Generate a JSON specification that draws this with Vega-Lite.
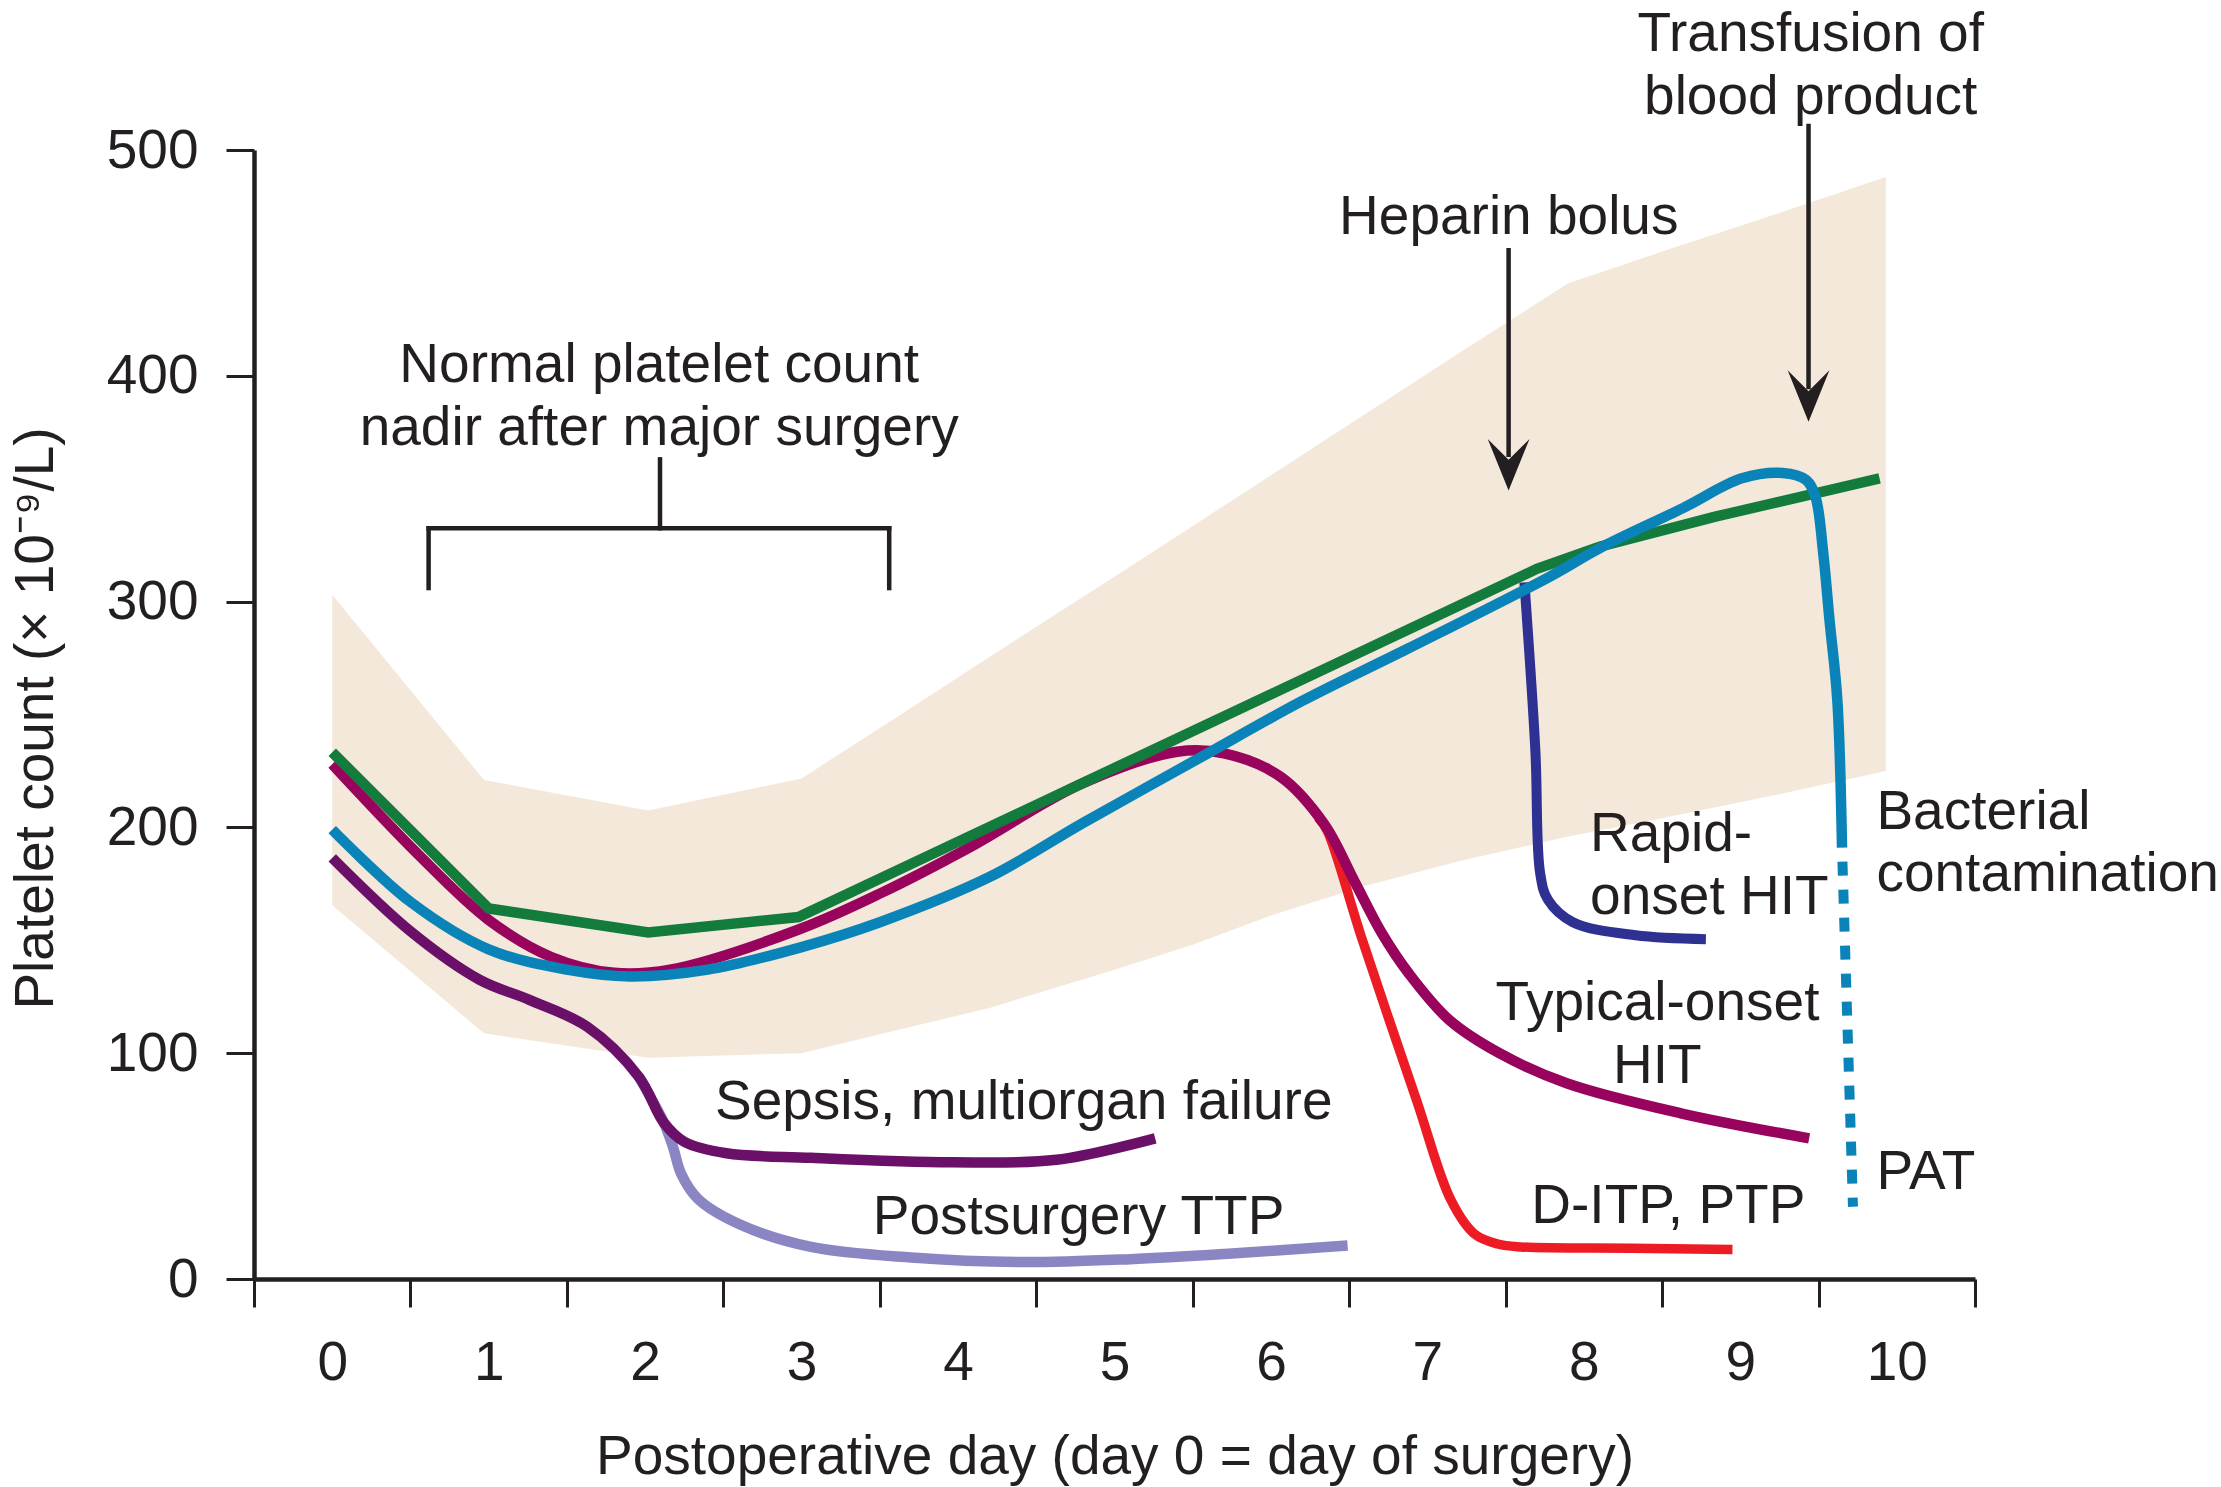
{
  "$schema": "https://vega.github.io/schema/vega-lite/v6.json",
  "width": 1721,
  "height": 1129,
  "autosize": "none",
  "padding": {"left": 254, "top": 150, "right": 246, "bottom": 208},
  "background": "white",
  "config": {"view": {"stroke": null}, "font": "Liberation Sans"},
  "datasets": {
    "band": [
      {"day": 0, "count": 165.5, "count2": 303},
      {"day": 0.97, "count": 108.8, "count2": 221},
      {"day": 2.02, "count": 98, "count2": 207.5},
      {"day": 3.0, "count": 100, "count2": 221.7},
      {"day": 3.6, "count": 110, "count2": 248.5},
      {"day": 4.2, "count": 120, "count2": 275.5},
      {"day": 5.0, "count": 137, "count2": 311},
      {"day": 5.5, "count": 148, "count2": 333.5},
      {"day": 6.0, "count": 161, "count2": 356},
      {"day": 6.6, "count": 174, "count2": 383},
      {"day": 7.2, "count": 185, "count2": 410},
      {"day": 7.9, "count": 196, "count2": 441},
      {"day": 8.5, "count": 204, "count2": 455},
      {"day": 9.2, "count": 214, "count2": 471},
      {"day": 9.93, "count": 225, "count2": 488}
    ],
    "curves": [
      {"series": "ttp", "day": 1.96, "count": 89.5},
      {"series": "ttp", "day": 2.12, "count": 69.2},
      {"series": "ttp", "day": 2.18, "count": 58},
      {"series": "ttp", "day": 2.23, "count": 46.6},
      {"series": "ttp", "day": 2.34, "count": 35.3},
      {"series": "ttp", "day": 2.61, "count": 24},
      {"series": "ttp", "day": 3.06, "count": 14.2},
      {"series": "ttp", "day": 3.7, "count": 9.5},
      {"series": "ttp", "day": 4.4, "count": 7.5},
      {"series": "ttp", "day": 5.1, "count": 8.8},
      {"series": "ttp", "day": 5.75, "count": 11.3},
      {"series": "ttp", "day": 6.49, "count": 14.8},

      {"series": "sepsis", "day": 0, "count": 186.5},
      {"series": "sepsis", "day": 0.5, "count": 154},
      {"series": "sepsis", "day": 0.94, "count": 132.6},
      {"series": "sepsis", "day": 1.26, "count": 123.6},
      {"series": "sepsis", "day": 1.63, "count": 111.7},
      {"series": "sepsis", "day": 1.96, "count": 89.5},
      {"series": "sepsis", "day": 2.12, "count": 69.2},
      {"series": "sepsis", "day": 2.25, "count": 60.8},
      {"series": "sepsis", "day": 2.52, "count": 55.7},
      {"series": "sepsis", "day": 3.06, "count": 53.7},
      {"series": "sepsis", "day": 3.96, "count": 51.7},
      {"series": "sepsis", "day": 4.63, "count": 52.8},
      {"series": "sepsis", "day": 5.26, "count": 62.3},

      {"series": "ditp", "day": 6.3, "count": 204.5},
      {"series": "ditp", "day": 6.36, "count": 198.5},
      {"series": "ditp", "day": 6.58, "count": 151},
      {"series": "ditp", "day": 6.93, "count": 79.3},
      {"series": "ditp", "day": 7.15, "count": 35},
      {"series": "ditp", "day": 7.3, "count": 20},
      {"series": "ditp", "day": 7.45, "count": 15.5},
      {"series": "ditp", "day": 7.6, "count": 14.2},
      {"series": "ditp", "day": 8.3, "count": 13.6},
      {"series": "ditp", "day": 8.95, "count": 13.1},

      {"series": "typical", "day": 0, "count": 228},
      {"series": "typical", "day": 0.55, "count": 188},
      {"series": "typical", "day": 1.0, "count": 159},
      {"series": "typical", "day": 1.4, "count": 142.6},
      {"series": "typical", "day": 1.8, "count": 135.6},
      {"series": "typical", "day": 2.16, "count": 137},
      {"series": "typical", "day": 2.99, "count": 155},
      {"series": "typical", "day": 3.51, "count": 171},
      {"series": "typical", "day": 4.08, "count": 191.4},
      {"series": "typical", "day": 4.78, "count": 219},
      {"series": "typical", "day": 5.4, "count": 233.5},
      {"series": "typical", "day": 5.7, "count": 232.8},
      {"series": "typical", "day": 6.06, "count": 222.5},
      {"series": "typical", "day": 6.34, "count": 201.5},
      {"series": "typical", "day": 6.54, "count": 175.3},
      {"series": "typical", "day": 6.71, "count": 153},
      {"series": "typical", "day": 6.88, "count": 135.4},
      {"series": "typical", "day": 7.14, "count": 114.7},
      {"series": "typical", "day": 7.46, "count": 100},
      {"series": "typical", "day": 7.89, "count": 86.7},
      {"series": "typical", "day": 8.62, "count": 73.4},
      {"series": "typical", "day": 9.44, "count": 62.3},

      {"series": "normal", "day": 0, "count": 233.3},
      {"series": "normal", "day": 1.0, "count": 164.1},
      {"series": "normal", "day": 2.02, "count": 153.5},
      {"series": "normal", "day": 2.98, "count": 160.3},
      {"series": "normal", "day": 7.7, "count": 314.5},
      {"series": "normal", "day": 8.1, "count": 324.3},
      {"series": "normal", "day": 8.84, "count": 337.6},
      {"series": "normal", "day": 9.89, "count": 354.6},

      {"series": "rapid", "day": 7.62, "count": 308.5},
      {"series": "rapid", "day": 7.69, "count": 234},
      {"series": "rapid", "day": 7.72, "count": 180},
      {"series": "rapid", "day": 7.77, "count": 168},
      {"series": "rapid", "day": 7.93, "count": 158},
      {"series": "rapid", "day": 8.33, "count": 152.2},
      {"series": "rapid", "day": 8.78, "count": 150.5},

      {"series": "pat", "day": 0, "count": 199},
      {"series": "pat", "day": 0.5, "count": 167},
      {"series": "pat", "day": 1.0, "count": 146},
      {"series": "pat", "day": 1.5, "count": 137},
      {"series": "pat", "day": 1.9, "count": 134},
      {"series": "pat", "day": 2.4, "count": 137},
      {"series": "pat", "day": 3.0, "count": 147},
      {"series": "pat", "day": 3.5, "count": 158},
      {"series": "pat", "day": 4.2, "count": 178},
      {"series": "pat", "day": 4.8, "count": 202},
      {"series": "pat", "day": 5.55, "count": 231},
      {"series": "pat", "day": 6.2, "count": 256},
      {"series": "pat", "day": 6.87, "count": 279},
      {"series": "pat", "day": 7.78, "count": 311},
      {"series": "pat", "day": 8.1, "count": 323.6},
      {"series": "pat", "day": 8.63, "count": 341.3},
      {"series": "pat", "day": 9.01, "count": 354.6},
      {"series": "pat", "day": 9.27, "count": 357},
      {"series": "pat", "day": 9.42, "count": 353.9},
      {"series": "pat", "day": 9.48, "count": 346.5},
      {"series": "pat", "day": 9.53, "count": 321.4},
      {"series": "pat", "day": 9.57, "count": 291.8},
      {"series": "pat", "day": 9.62, "count": 256.4},
      {"series": "pat", "day": 9.65, "count": 191},

      {"series": "pat_dashed", "day": 9.65, "count": 191},
      {"series": "pat_dashed", "day": 9.72, "count": 32}
    ],
    "segments": [
      {"day": 0.616, "count": 306, "day2": 0.616, "count2": 332.5},
      {"day": 0.616, "count": 332.5, "day2": 3.56, "count2": 332.5},
      {"day": 3.56, "count": 332.5, "day2": 3.56, "count2": 306},
      {"day": 2.095, "count": 332.5, "day2": 2.095, "count2": 363},
      {"day": 7.519, "count": 455.6, "day2": 7.519, "count2": 365},
      {"day": 9.436, "count": 510.6, "day2": 9.436, "count2": 395}
    ],
    "arrowheads": [
      {"day": 7.519, "count": 349.2},
      {"day": 9.436, "count": 379.6}
    ],
    "labelsCenter": [
      {"day": 9.45, "count": 544.0, "label": "Transfusion of"},
      {"day": 9.45, "count": 516.1, "label": "blood product"},
      {"day": 7.52, "count": 462.6, "label": "Heparin bolus"},
      {"day": 2.09, "count": 397.3, "label": "Normal platelet count"},
      {"day": 2.09, "count": 369.4, "label": "nadir after major surgery"},
      {"day": 4.42, "count": 70.7, "label": "Sepsis, multiorgan failure"},
      {"day": 4.77, "count": 19.8, "label": "Postsurgery TTP"},
      {"day": 8.47, "count": 114.9, "label": "Typical-onset"},
      {"day": 8.47, "count": 86.9, "label": "HIT"},
      {"day": 8.54, "count": 24.6, "label": "D-ITP, PTP"}
    ],
    "labelsLeft": [
      {"day": 8.04, "count": 189.7, "label": "Rapid-"},
      {"day": 8.04, "count": 161.6, "label": "onset HIT"},
      {"day": 9.87, "count": 199.1, "label": "Bacterial"},
      {"day": 9.87, "count": 171.7, "label": "contamination"},
      {"day": 9.87, "count": 39.9, "label": "PAT"}
    ]
  },
  "encoding": {
    "x": {
      "field": "day",
      "type": "quantitative",
      "scale": {"domain": [-0.5, 10.5], "nice": false, "zero": false},
      "axis": {
        "values": [-0.5, 0, 0.5, 1, 1.5, 2, 2.5, 3, 3.5, 4, 4.5, 5, 5.5, 6, 6.5, 7, 7.5, 8, 8.5, 9, 9.5, 10, 10.5],
        "labelExpr": "datum.value % 1 === 0 ? format(datum.value, 'd') : ''",
        "tickOpacity": {"condition": {"test": "datum.value % 1 !== 0", "value": 1}, "value": 0},
        "title": "Postoperative day (day 0 = day of surgery)",
        "titleY": 194,
        "titleBaseline": "alphabetic",
        "titleFont": "Liberation Sans",
        "titleFontSize": 55,
        "titleFontWeight": "normal",
        "titleColor": "#231f20",
        "tickSize": 28,
        "tickWidth": 3,
        "tickColor": "#231f20",
        "domainWidth": 4.5,
        "domainColor": "#231f20",
        "labelFont": "Liberation Sans",
        "labelFontSize": 55,
        "labelColor": "#231f20",
        "labelPadding": 72,
        "labelBaseline": "alphabetic",
        "labelOverlap": false,
        "labelFlush": false,
        "labelBound": false,
        "grid": false,
        "zindex": 1
      }
    },
    "y": {
      "field": "count",
      "type": "quantitative",
      "scale": {"domain": [0, 500], "nice": false},
      "axis": {
        "values": [0, 100, 200, 300, 400, 500],
        "title": "Platelet count (× 10⁻⁹/L)",
        "titleX": -202,
        "titleY": 568,
        "titleAngle": -90,
        "titleAlign": "center",
        "titleBaseline": "alphabetic",
        "titleFont": "Liberation Sans",
        "titleFontSize": 55,
        "titleFontWeight": "normal",
        "titleColor": "#231f20",
        "tickSize": 28,
        "tickWidth": 3,
        "tickColor": "#231f20",
        "domainWidth": 4.5,
        "domainColor": "#231f20",
        "labelFont": "Liberation Sans",
        "labelFontSize": 55,
        "labelColor": "#231f20",
        "labelPadding": 28,
        "labelOverlap": false,
        "labelFlush": false,
        "labelBound": false,
        "grid": false,
        "zindex": 1
      }
    }
  },
  "layer": [
    {
      "data": {"name": "band"},
      "mark": {"type": "area", "color": "#f3e8da", "opacity": 1, "interpolate": "linear"},
      "encoding": {"y2": {"field": "count2"}}
    },
    {
      "data": {"name": "curves"},
      "transform": [{"filter": "datum.series === 'ttp'"}],
      "mark": {"type": "line", "color": "#8a86c3", "strokeWidth": 10.5, "interpolate": "catmull-rom", "strokeCap": "butt", "strokeJoin": "round"},
      "encoding": {}
    },
    {
      "data": {"name": "curves"},
      "transform": [{"filter": "datum.series === 'sepsis'"}],
      "mark": {"type": "line", "color": "#6a1068", "strokeWidth": 10.5, "interpolate": "catmull-rom", "strokeCap": "butt", "strokeJoin": "round"},
      "encoding": {}
    },
    {
      "data": {"name": "curves"},
      "transform": [{"filter": "datum.series === 'ditp'"}],
      "mark": {"type": "line", "color": "#ed1c24", "strokeWidth": 9.5, "interpolate": "catmull-rom", "strokeCap": "butt", "strokeJoin": "round"},
      "encoding": {}
    },
    {
      "data": {"name": "curves"},
      "transform": [{"filter": "datum.series === 'typical'"}],
      "mark": {"type": "line", "color": "#98045d", "strokeWidth": 10.5, "interpolate": "catmull-rom", "strokeCap": "butt", "strokeJoin": "round"},
      "encoding": {}
    },
    {
      "data": {"name": "curves"},
      "transform": [{"filter": "datum.series === 'normal'"}],
      "mark": {"type": "line", "color": "#137c3c", "strokeWidth": 10.5, "interpolate": "linear", "strokeCap": "butt", "strokeJoin": "miter"},
      "encoding": {}
    },
    {
      "data": {"name": "curves"},
      "transform": [{"filter": "datum.series === 'rapid'"}],
      "mark": {"type": "line", "color": "#2e3192", "strokeWidth": 10, "interpolate": "catmull-rom", "strokeCap": "butt", "strokeJoin": "round"},
      "encoding": {}
    },
    {
      "data": {"name": "curves"},
      "transform": [{"filter": "datum.series === 'pat'"}],
      "mark": {"type": "line", "color": "#0a84b8", "strokeWidth": 10.5, "interpolate": "catmull-rom", "strokeCap": "butt", "strokeJoin": "round"},
      "encoding": {}
    },
    {
      "data": {"name": "curves"},
      "transform": [{"filter": "datum.series === 'pat_dashed'"}],
      "mark": {"type": "line", "color": "#0a84b8", "strokeWidth": 10, "interpolate": "linear", "strokeCap": "butt", "strokeDash": [14, 14], "strokeDashOffset": 14},
      "encoding": {}
    },
    {
      "data": {"name": "segments"},
      "mark": {"type": "rule", "color": "#231f20", "strokeWidth": 4.5, "strokeCap": "square"},
      "encoding": {"x2": {"field": "day2"}, "y2": {"field": "count2"}}
    },
    {
      "data": {"name": "arrowheads"},
      "mark": {"type": "point", "shape": "M0,0L-0.81,-2L0,-1.19L0.81,-2Z", "filled": true, "size": 2663, "color": "#231f20", "opacity": 1, "strokeWidth": 0}
    },
    {
      "data": {"name": "labelsCenter"},
      "mark": {"type": "text", "align": "center", "baseline": "alphabetic", "font": "Liberation Sans", "fontSize": 55, "color": "#231f20"},
      "encoding": {"text": {"field": "label"}}
    },
    {
      "data": {"name": "labelsLeft"},
      "mark": {"type": "text", "align": "left", "baseline": "alphabetic", "font": "Liberation Sans", "fontSize": 55, "color": "#231f20"},
      "encoding": {"text": {"field": "label"}}
    }
  ]
}
